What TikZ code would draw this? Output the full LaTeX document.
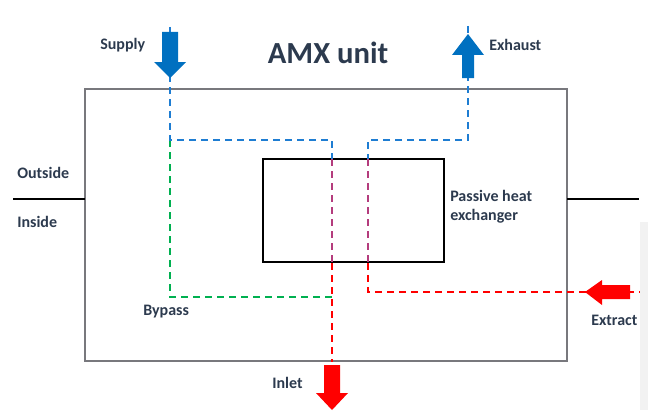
\documentclass[tikz,border=0pt]{standalone}
\usepackage{fontspec}
\setmainfont{Carlito}
\definecolor{txtcol}{RGB}{44,58,78}
\definecolor{flowblue}{RGB}{0,112,192}
\definecolor{lineblue}{RGB}{30,125,210}
\definecolor{flowgreen}{RGB}{0,176,80}
\definecolor{flowpurple}{RGB}{180,60,125}
\definecolor{flowred}{RGB}{255,0,0}
\definecolor{boxgrey}{RGB}{120,120,125}
\begin{document}
\begin{tikzpicture}[x=0.75pt,y=-0.75pt,
    label/.style={font=\bfseries\fontsize{12}{14.5}\selectfont,text=txtcol,inner sep=0pt},
    flow/.style={line width=1.5pt,dash pattern=on 5.25pt off 3.75pt},
    blockarrow/.style={draw=none}]
  \useasboundingbox (0,0) rectangle (648,410);
  \fill[black!5] (640,222) rectangle (648,410);

  % unit and exchanger
  \draw[boxgrey,line width=1pt] (85,89) rectangle (567,361);
  \draw[black,line width=1.5pt] (263,159) rectangle (444,262);

  % outside / inside
  \draw[black,line width=1.5pt] (13,199) -- (85,199);
  \draw[black,line width=1.5pt] (567,199) -- (639,199);

  % corners of the flows
  \coordinate (suptop) at (170,27);
  \coordinate (supbend) at (170,140);
  \coordinate (supjoin) at (332,140);
  \coordinate (supin) at (332,159);
  \coordinate (supout) at (332,263);
  \coordinate (supbot) at (332,362);
  \coordinate (bypbend) at (170,297);
  \coordinate (bypjoin) at (332,297);
  \coordinate (exhtop) at (468,26);
  \coordinate (exhbend) at (468,140);
  \coordinate (exhjoin) at (368,140);
  \coordinate (exhin) at (368,159);
  \coordinate (exhout) at (368,263);
  \coordinate (extbend) at (368,292);
  \coordinate (extend) at (640,292);

  % flows
  \draw[flow,flowgreen] (supbend) -- (bypbend) -- (bypjoin);
  \draw[flow,lineblue] (suptop) -- (supbend) -- (supjoin) -- (supin);
  \draw[flow,flowpurple] (supin) -- (supout);
  \draw[flow,flowred] (supout) -- (supbot);
  \draw[flow,lineblue] (exhtop) -- (exhbend) -- (exhjoin) -- (exhin);
  \draw[flow,flowpurple] (exhin) -- (exhout);
  \draw[flow,flowred] (exhout) -- (extbend) -- (extend);

  % block arrows
  \fill[flowblue] (162,32) -- (178,32) -- (178,62) -- (186,62) -- (170,78)
    -- (154,62) -- (162,62) -- cycle;
  \fill[flowblue] (462,78) -- (474,78) -- (474,55) -- (484,55) -- (468,34)
    -- (452,55) -- (462,55) -- cycle;
  \fill[flowred] (324,365) -- (340,365) -- (340,393) -- (348,393) -- (332,410)
    -- (316,393) -- (324,393) -- cycle;
  \fill[flowred] (630,285) -- (630,299) -- (602,299) -- (602,305) -- (585,292)
    -- (602,280) -- (602,285) -- cycle;

  % labels
  \node[label,anchor=west] (supply) at (100,45) {Supply};
  \node[label,anchor=west] (exhaust) at (489,45) {Exhaust};
  \node[label,font=\bfseries\fontsize{23}{27}\selectfont] (title) at (328,53) {AMX unit};
  \node[label,anchor=west] (outside) at (17,173) {Outside};
  \node[label,anchor=west] (inside) at (17,222) {Inside};
  \node[label,anchor=west,align=left] (hex) at (450,207) {Passive heat\\exchanger};
  \node[label,anchor=west] (bypass) at (143,312) {Bypass};
  \node[label,anchor=west] (inlet) at (272,383) {Inlet};
  \node[label,anchor=west] (extract) at (591,320) {Extract};
\end{tikzpicture}
\end{document}
